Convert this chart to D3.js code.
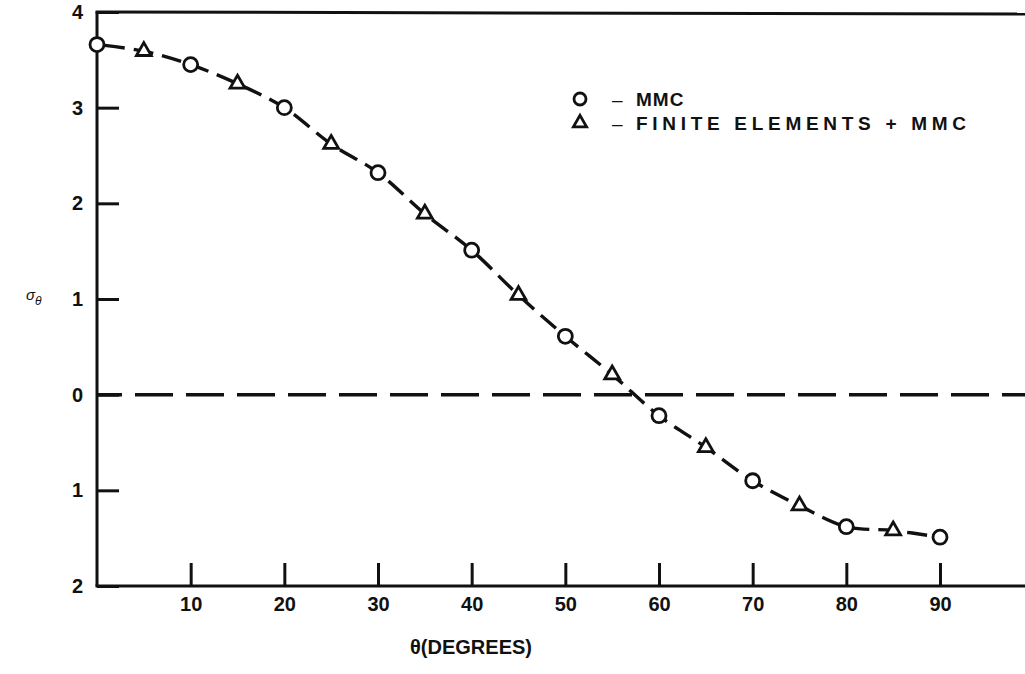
<!DOCTYPE html>
<html>
<head>
<meta charset="utf-8">
<script src="https://cdn.jsdelivr.net/npm/d3@7"></script>
<style>
  html, body { margin: 0; padding: 0; background: #fff; }
  svg { display: block; }
  text { font-family: "Liberation Sans", Arial, Helvetica, sans-serif; fill: #111; }
</style>
</head>
<body>
<svg id="chart" width="1025" height="674"></svg>
<script>
// ---- data ----
const mmcAngles = [0, 10, 20, 30, 40, 50, 60, 70, 80, 90];
const mmcValues = [3.66, 3.45, 3.00, 2.32, 1.51, 0.61, -0.22, -0.90, -1.38, -1.49];
const femAngles = [5, 15, 25, 35, 45, 55, 65, 75, 85];
const femValues = [3.59, 3.25, 2.62, 1.89, 1.04, 0.21, -0.55, -1.16, -1.42];
const xTicks = [10, 20, 30, 40, 50, 60, 70, 80, 90];
const yTicks = [-2, -1, 0, 1, 2, 3, 4];
const yTickLabels = ["2", "1", "0", "1", "2", "3", "4"];
const legendLabels = ["MMC", "FINITE ELEMENTS + MMC"];

const svg = d3.select("#chart");
const W = 1025;
const x = d3.scaleLinear().domain([0, 90]).range([97, 940]);
const y = d3.scaleLinear().domain([-2, 4]).range([586, 12]);

// axes
const yAxis = d3.axisLeft(y).tickValues(yTicks)
  .tickFormat((d, i) => yTickLabels[i]).tickSize(-22).tickPadding(14);
const gy = svg.append("g").attr("transform", `translate(${x(0)},0)`).call(yAxis);
gy.select(".domain").remove();
gy.selectAll(".tick line").attr("stroke", "#111").attr("stroke-width", 3);
gy.selectAll(".tick text").style("font-size", "20px").style("font-weight", "bold").attr("fill", "#111");

const xAxis = d3.axisBottom(x).tickValues(xTicks).tickSize(-23).tickPadding(11);
const gx = svg.append("g").attr("transform", `translate(0,${y(-2)})`).call(xAxis);
gx.select(".domain").remove();
gx.selectAll(".tick line").attr("stroke", "#111").attr("stroke-width", 3);
gx.selectAll(".tick text").style("font-size", "20px").style("font-weight", "bold").attr("fill", "#111");

// frame lines
svg.append("line").attr("x1", x(0)).attr("x2", x(0)).attr("y1", y(4)).attr("y2", y(-2))
  .attr("stroke", "#111").attr("stroke-width", 3);
svg.append("line").attr("x1", x(0) - 1.5).attr("x2", W).attr("y1", y(-2)).attr("y2", y(-2))
  .attr("stroke", "#111").attr("stroke-width", 3);
svg.append("line").attr("x1", x(0) - 1.5).attr("x2", W).attr("y1", y(4)).attr("y2", y(4) + 2)
  .attr("stroke", "#111").attr("stroke-width", 3);

// zero dashed line
svg.append("line").attr("x1", x(0)).attr("x2", W).attr("y1", y(0)).attr("y2", y(0))
  .attr("stroke", "#111").attr("stroke-width", 3.5)
  .attr("stroke-dasharray", "38,13").attr("stroke-dashoffset", 13);

// curve through all points
const all = mmcAngles.map((a, i) => [a, mmcValues[i]])
  .concat(femAngles.map((a, i) => [a, femValues[i]]))
  .sort((a, b) => a[0] - b[0]);
const line = d3.line().x(d => x(d[0])).y(d => y(d[1])).curve(d3.curveCatmullRom.alpha(0.5));
svg.append("path").datum(all).attr("d", line)
  .attr("fill", "none").attr("stroke", "#111").attr("stroke-width", 3.4)
  .attr("stroke-dasharray", "20,9").attr("stroke-dashoffset", -8);

// markers
svg.selectAll("circle.mmc").data(mmcAngles).enter().append("circle")
  .attr("class", "mmc")
  .attr("cx", (d) => x(d)).attr("cy", (d, i) => y(mmcValues[i])).attr("r", 7)
  .attr("fill", "#fff").attr("stroke", "#111").attr("stroke-width", 2.8);

const tri = d3.symbol().type(d3.symbolTriangle).size(95);
svg.selectAll("path.fem").data(femAngles).enter().append("path")
  .attr("class", "fem")
  .attr("d", tri)
  .attr("transform", (d, i) => `translate(${x(d)},${y(femValues[i])})`)
  .attr("fill", "#fff").attr("stroke", "#111").attr("stroke-width", 2.8);

// legend
const lg = svg.append("g");
lg.append("circle").attr("cx", 580).attr("cy", 99).attr("r", 6)
  .attr("fill", "#fff").attr("stroke", "#111").attr("stroke-width", 2.8);
lg.append("path").attr("d", d3.symbol().type(d3.symbolTriangle).size(75))
  .attr("transform", "translate(580,123)")
  .attr("fill", "#fff").attr("stroke", "#111").attr("stroke-width", 2.8);
lg.append("text").attr("x", 612).attr("y", 106).text("\u2013").style("font-size", "19px");
lg.append("text").attr("x", 612).attr("y", 130).text("\u2013").style("font-size", "19px");
lg.append("text").attr("x", 636).attr("y", 106).text(legendLabels[0])
  .style("font-size", "19px").style("font-weight", "bold").style("letter-spacing", "1px");
lg.append("text").attr("x", 636).attr("y", 130).text(legendLabels[1])
  .attr("textLength", 330).attr("lengthAdjust", "spacing")
  .style("font-size", "19px").style("font-weight", "bold");

// axis titles
const yl = svg.append("text").attr("x", 26).attr("y", 300).style("font-size", "15px").style("font-style", "italic");
yl.append("tspan").text("\u03C3");
yl.append("tspan").attr("dy", 5).style("font-size", "12px").text("\u03B8");

svg.append("text").attr("x", 471).attr("y", 654).attr("text-anchor", "middle")
  .style("font-size", "20px").style("font-weight", "bold").text("\u03B8(DEGREES)");
</script>
</body>
</html>
